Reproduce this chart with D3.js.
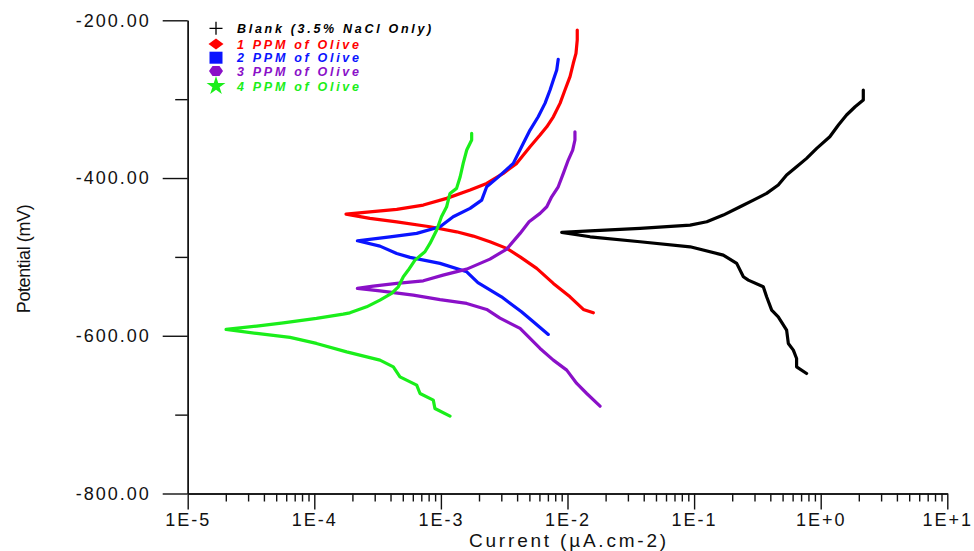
<!DOCTYPE html>
<html><head><meta charset="utf-8">
<script src="https://cdn.jsdelivr.net/npm/d3@7/dist/d3.min.js"></script>
<style>body{margin:0;background:#fff}svg{display:block;font-family:"Liberation Sans",Arial,sans-serif}</style>
</head><body><svg id="c" width="974" height="551"></svg>
<script>
// ---- data (current in µA.cm-2, potential in mV) ----
const xTickValues = [1e-5, 1e-4, 1e-3, 1e-2, 1e-1, 1e0, 1e1];
const xTickLabels = ["1E-5", "1E-4", "1E-3", "1E-2", "1E-1", "1E+0", "1E+1"];
const yTickValues = [-200, -400, -600, -800];
const yTickLabels = ["-200.00", "-400.00", "-600.00", "-800.00"];
const yMinorTicks = [-300, -500, -700];
const seriesNames = ["Blank (3.5% NaCl Only)", "1 PPM of Olive", "2 PPM of Olive", "3 PPM of Olive", "4 PPM of Olive"];
const seriesColors = ["#000000", "#ff0000", "#0a14ff", "#8a10c8", "#1aee1a"];
const seriesSymbols = ["plus", "diamond", "square", "hexagon", "star"];

const blank = [[2.17,-288.4],[2.17,-301.1],[1.87,-309.6],[1.60,-320.1],[1.38,-332.8],[1.18,-347.7],[0.93,-362.4],[0.774,-375.1],[0.645,-385.7],[0.538,-396.2],[0.462,-408.9],[0.374,-419.5],[0.294,-428.0],[0.231,-436.4],[0.170,-447.0],[0.126,-455.5],[0.093,-459.7],[0.0374,-463.8],[0.0151,-466.9],[0.0090,-468.9],[0.0151,-474.5],[0.0374,-480.8],[0.093,-487.2],[0.170,-497.7],[0.217,-508.2],[0.245,-525.2],[0.268,-529.4],[0.352,-537.9],[0.374,-550.6],[0.410,-567.5],[0.462,-576.0],[0.538,-592.9],[0.555,-609.7],[0.608,-618.2],[0.645,-628.8],[0.645,-639.4],[0.774,-647.8]];
const ppm1 = [[0.01194,-212.3],[0.01194,-225.0],[0.01167,-241.9],[0.01111,-254.5],[0.01047,-271.5],[0.00955,-288.4],[0.00873,-305.3],[0.00773,-322.3],[0.00686,-335.0],[0.00607,-345.5],[0.00506,-360.3],[0.00397,-381.4],[0.00311,-394.1],[0.00230,-406.8],[0.00170,-415.3],[0.00111,-425.8],[0.000726,-434.3],[0.000448,-439.7],[0.000275,-442.8],[0.000178,-445.7],[0.000275,-451.2],[0.000448,-455.5],[0.000820,-461.8],[0.00133,-468.2],[0.00180,-473.6],[0.00244,-480.8],[0.00331,-489.2],[0.00422,-499.9],[0.00571,-514.6],[0.00773,-533.6],[0.01047,-550.6],[0.01334,-566.6],[0.0160,-570.9]];
const ppm2 = [[0.00845,-249.5],[0.00822,-263.0],[0.00773,-275.7],[0.00728,-288.4],[0.00664,-305.3],[0.00587,-322.3],[0.00506,-339.2],[0.00448,-356.0],[0.00373,-381.4],[0.00276,-400.4],[0.00230,-411.1],[0.00210,-428.0],[0.00170,-438.5],[0.00125,-449.1],[0.000984,-461.8],[0.000644,-470.2],[0.000396,-474.5],[0.000219,-479.6],[0.000330,-486.3],[0.000448,-495.6],[0.000570,-500.6],[0.000984,-508.2],[0.00160,-518.9],[0.00196,-532.6],[0.00301,-550.6],[0.00433,-569.5],[0.00537,-582.3],[0.00705,-598.3]];
const ppm3 = [[0.01145,-341.3],[0.01145,-351.8],[0.01099,-364.5],[0.01014,-377.2],[0.00927,-394.1],[0.00845,-411.1],[0.00750,-423.8],[0.00686,-436.4],[0.00607,-444.8],[0.00497,-455.5],[0.00422,-470.2],[0.00331,-490.1],[0.00244,-502.8],[0.00160,-515.5],[0.00104,-523.1],[0.000726,-530.3],[0.000448,-533.6],[0.000292,-537.0],[0.000219,-540.0],[0.000330,-543.0],[0.000605,-548.5],[0.000984,-554.2],[0.00160,-559.0],[0.00230,-566.6],[0.00293,-577.6],[0.00422,-590.7],[0.00607,-616.1],[0.00773,-630.9],[0.00986,-643.6],[0.01183,-660.5],[0.01419,-673.2],[0.01807,-689.3]];
const ppm4 = [[0.00175,-343.3],[0.00175,-351.8],[0.00160,-364.5],[0.00150,-381.4],[0.00142,-398.4],[0.00133,-413.1],[0.00118,-419.5],[0.00111,-436.4],[0.00101,-449.1],[0.000927,-466.0],[0.000820,-482.9],[0.000748,-493.5],[0.000624,-504.1],[0.000553,-516.7],[0.000505,-525.2],[0.000461,-537.9],[0.000408,-546.3],[0.000330,-554.8],[0.000259,-563.3],[0.000191,-570.9],[0.000169,-572.6],[0.000104,-578.0],[0.0000569,-583.6],[0.0000351,-587.8],[0.0000201,-592.0],[0.0000351,-597.0],[0.0000643,-602.1],[0.000104,-609.7],[0.000180,-620.4],[0.000330,-630.9],[0.000421,-639.4],[0.000475,-652.1],[0.000644,-662.6],[0.000684,-673.2],[0.000871,-681.6],[0.000897,-692.2],[0.00118,-701.9]];
const seriesData = [blank, ppm1, ppm2, ppm3, ppm4];

// ---- layout ----
const W = 974, H = 551;
const margin = {left: 187.7, right: 26.7, top: 20.3, bottom: 57.5};
const svg = d3.select("#c");
const x = d3.scaleLog().domain([1e-5, 10]).range([margin.left, W - margin.right]);
const y = d3.scaleLinear().domain([-800, -200]).range([H - margin.bottom, margin.top]);

const xMinor = [];
for (let e = -5; e < 1; e++) for (let m = 2; m <= 9; m++) xMinor.push(m * Math.pow(10, e));

const axisStyle = g => {
  g.selectAll("path.domain").attr("stroke", "#111").attr("stroke-width", 1.4);
  g.selectAll(".tick line").attr("stroke", "#111").attr("stroke-width", 1.4);
};

// x axis minor
svg.append("g").attr("transform", `translate(0,${y(-800)})`)
  .call(d3.axisBottom(x).tickValues(xMinor).tickSize(8).tickSizeOuter(0).tickFormat(""))
  .call(axisStyle);
// x axis major
svg.append("g").attr("transform", `translate(0,${y(-800)})`)
  .call(d3.axisBottom(x).tickValues(xTickValues).tickSize(16).tickSizeOuter(0).tickPadding(4)
    .tickFormat((d, i) => xTickLabels[i]))
  .call(axisStyle)
  .call(g => g.selectAll("text").attr("font-size", 18).attr("fill", "#111")
    .attr("letter-spacing", 2).attr("font-family", '"Liberation Sans",Arial,sans-serif'));

// y axis minor
svg.append("g").attr("transform", `translate(${x(1e-5)},0)`)
  .call(d3.axisLeft(y).tickValues(yMinorTicks).tickSize(12.5).tickSizeOuter(0).tickFormat(""))
  .call(axisStyle);
// y axis major
svg.append("g").attr("transform", `translate(${x(1e-5)},0)`)
  .call(d3.axisLeft(y).tickValues(yTickValues).tickSize(25).tickSizeOuter(0).tickPadding(12)
    .tickFormat((d, i) => yTickLabels[i]))
  .call(axisStyle)
  .call(g => g.selectAll("text").attr("font-size", 18).attr("fill", "#111")
    .attr("letter-spacing", 2).attr("font-family", '"Liberation Sans",Arial,sans-serif'));

// axis titles
svg.append("text").attr("x", 569).attr("y", 547).attr("text-anchor", "middle")
  .attr("font-size", 19).attr("letter-spacing", 2.8).attr("fill", "#111").text("Current (µA.cm-2)");
svg.append("text").attr("transform", "translate(30,259) rotate(-90)").attr("text-anchor", "middle")
  .attr("font-size", 18).attr("letter-spacing", -0.4).attr("fill", "#111").text("Potential (mV)");

// lines
const line = d3.line().x(d => x(d[0])).y(d => y(d[1]));
seriesData.forEach((s, i) => {
  svg.append("path").datum(s).attr("d", line).attr("fill", "none")
    .attr("stroke", seriesColors[i]).attr("stroke-width", 3.2)
    .attr("stroke-linejoin", "round").attr("stroke-linecap", "round");
});

// legend
const legendX = 216, legendY0 = 28.3, legendStep = [0, 15.8, 29.4, 42.7, 57.7];
const symbolPath = t => {
  switch (t) {
    case "plus": return "M-6.5,0H6.5M0,-6.5V6.5";
    case "diamond": return "M-7.5,0L0,-5.5L7.5,0L0,5.5Z";
    case "square": return "M-6.5,-6H6.5V6H-6.5Z";
    case "hexagon": return "M-7,0L-3.5,-5H3.5L7,0L3.5,5H-3.5Z";
    case "star": return d3.symbol(d3.symbolStar, 110)();
  }
};
seriesNames.forEach((n, i) => {
  const gy = legendY0 + legendStep[i];
  const p = svg.append("path").attr("transform", `translate(${legendX},${gy})`).attr("d", symbolPath(seriesSymbols[i]));
  if (seriesSymbols[i] === "plus") p.attr("stroke", "#000").attr("stroke-width", 1.3).attr("fill", "none");
  else p.attr("fill", seriesColors[i]);
  svg.append("text").attr("x", 237).attr("y", gy + 4.5)
    .attr("font-size", 12.5).attr("font-weight", "bold").attr("font-style", "italic")
    .attr("letter-spacing", 2.7).attr("fill", seriesColors[i]).text(n);
});
</script></body></html>
